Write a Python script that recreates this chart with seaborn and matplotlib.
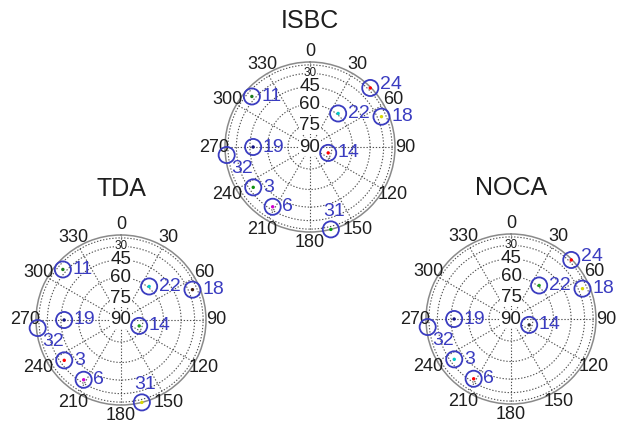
import numpy as np
import pandas as pd
import matplotlib
matplotlib.use("Agg")
import matplotlib.pyplot as plt
import seaborn as sns

# Satellite sky positions (degrees)
sat_ids = [24, 11, 22, 18, 14, 19, 32, 3, 6, 31]
azimuth = [45.6, 311, 40, 67, 108, 270, 264.5, 234.6, 212, 165.8]
elevation = [7, 25, 59, 24, 77, 48, 10, 35, 34, 1]

# Estimated-position dot colour for each method (None = no dot)
isbc_colors = ["#ff0000", "#1a7a1a", "#00c8c8", "#d8d800", "#ff0000",
               "#101080", None, "#109010", "#d000d0", "#10a010"]
tda_colors = [None, "#1a7a1a", "#00c8c8", "#402010", "#20a020",
              "#101080", None, "#ff0000", "#d000d0", "#d8d800"]
noca_colors = ["#ff0000", None, "#20a020", "#d8d800", "#303030",
               "#101080", None, "#00c8c8", "#ff0000", None]
isbc_shown = [1, 1, 1, 1, 1, 1, 1, 1, 1, 1]
tda_shown = [0, 1, 1, 1, 1, 1, 1, 1, 1, 1]
noca_shown = [1, 0, 1, 1, 1, 1, 1, 1, 1, 0]

az_ticks = list(range(0, 360, 30))
el_rings = [15, 30, 45, 60, 75]
el_labels = [30, 45, 60, 75, 90]

sns.set_style("white")
plt.rcParams["font.family"] = ["Liberation Sans", "DejaVu Sans"]

BLUE = "#3a3cc0"
TXT = "#1e1e1e"
W, H = 620, 425
R = 85  # plot radius in pixels

fig = plt.figure(figsize=(6.2, 4.25), dpi=100)


def skyplot(cx, cy, title, colors, shown, title_gap):
    ax = fig.add_axes([(cx - R) / W, 1 - (cy + R) / H, 2 * R / W, 2 * R / H],
                      projection="polar")
    ax.set_theta_zero_location("N")
    ax.set_theta_direction(-1)
    ax.set_ylim(0, 1)
    ax.set_facecolor("none")
    ax.set_xticks(np.radians(az_ticks))
    ax.set_xticklabels([])
    ax.set_yticks(np.cos(np.radians(el_rings)))
    ax.set_yticklabels([])
    ax.grid(True, linestyle=(0, (1.2, 1.6)), color="#505050", linewidth=0.8)
    ax.spines["polar"].set_color("#8a8a8a")
    ax.spines["polar"].set_linewidth(1.1)

    for a in az_ticks:
        ax.text(np.radians(a), 1.125, str(a), ha="center", va="center",
                fontsize=13, color=TXT, clip_on=False)
    for el in el_labels:
        small = el == 30
        ax.text(0, np.cos(np.radians(el)), str(el),
                ha="center", va="center", fontsize=8.5 if small else 13.5,
                color=TXT, zorder=3,
                bbox=dict(boxstyle="square,pad=0.05", fc="white", ec="none"))
    ax.text(0.5, 0.5 + title_gap / (2 * R), title, transform=ax.transAxes,
            ha="center", va="center", fontsize=18, color=TXT)

    df = pd.DataFrame({"sat": sat_ids, "az": azimuth, "el": elevation,
                       "color": colors, "shown": shown})
    df = df[df["shown"] == 1].copy()
    df["theta"] = np.radians(df["az"])
    df["r"] = np.cos(np.radians(df["el"]))

    sns.scatterplot(data=df, x="theta", y="r", ax=ax, marker="o", s=135,
                    facecolor="none", edgecolor=BLUE, linewidth=1.3,
                    zorder=5, legend=False, clip_on=False)
    dots = df[df["color"].notna()]
    sns.scatterplot(data=dots, x="theta", y="r", hue="sat", ax=ax,
                    palette=dict(zip(dots["sat"], dots["color"])),
                    s=6, linewidth=0, zorder=6, legend=False, clip_on=False)

    for _, row in df.iterrows():
        sid = int(row["sat"])
        if sid == 32:
            off, ha = (11, -10), "center"
        elif sid == 31:
            off, ha = (2, 13), "center"
        elif sid == 24:
            off, ha = (7, 2.5), "left"
        else:
            off, ha = (7, 0), "left"
        ax.annotate(str(sid), (row["theta"], row["r"]), xytext=off,
                    textcoords="offset points", ha=ha, va="center",
                    fontsize=14, color=BLUE, zorder=7, annotation_clip=False)
    ax.set_xlabel("")
    ax.set_ylabel("")
    return ax


skyplot(310, 147, "ISBC", isbc_colors, isbc_shown, 126)
skyplot(121, 320, "TDA", tda_colors, tda_shown, 131)
skyplot(511, 319, "NOCA", noca_colors, noca_shown, 131)

fig.savefig("out.png", dpi=100, facecolor="white")
